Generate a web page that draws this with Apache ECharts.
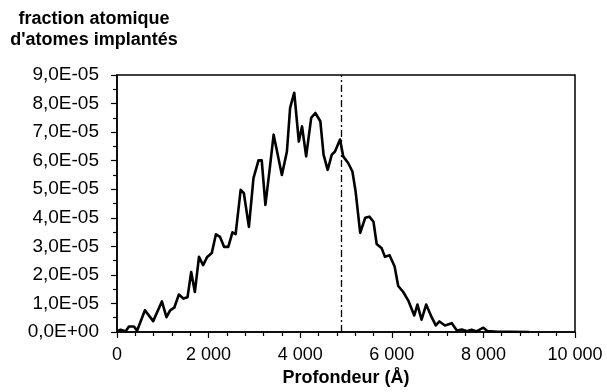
<!DOCTYPE html>
<html>
<head>
<meta charset="utf-8">
<script src="https://cdn.jsdelivr.net/npm/echarts@6/dist/echarts.min.js"></script>
<style>
  html, body { margin: 0; padding: 0; background: #fff; }
  #chart { width: 607px; height: 392px; }
</style>
</head>
<body>
<div id="chart"></div>
<script>
// Implantation profile: depth (Å) and atomic fraction (in units of 1E-05)
const depth = [0, 80, 190, 260, 370, 440, 610, 790, 980, 1080,
  1160, 1250, 1350, 1450, 1540, 1620, 1700, 1790, 1880, 1970,
  2070, 2160, 2250, 2340, 2430, 2520, 2590, 2700, 2770, 2880,
  2980, 3090, 3160, 3240, 3330, 3420, 3600, 3710, 3780, 3870, 3970,
  4040, 4130, 4240, 4330, 4440, 4510, 4600, 4690, 4760, 4870,
  4940, 5050, 5140, 5210, 5310, 5420, 5510, 5600, 5670, 5780,
  5850, 5950, 6060, 6140, 6250, 6360, 6490, 6560, 6650, 6750,
  6870, 6960, 7040, 7160, 7310, 7420, 7530, 7640, 7740, 7850,
  8000, 8090, 8300, 8600, 9000];
const fractionE5 = [0.03, 0.08, 0.03, 0.19, 0.19, 0.05, 0.76, 0.38, 1.07, 0.52,
  0.76, 0.85, 1.31, 1.17, 1.22, 2.10, 1.40, 2.63, 2.34, 2.63,
  2.77, 3.42, 3.33, 2.98, 2.98, 3.49, 3.43, 4.98, 4.86, 3.68,
  5.39, 6.01, 6.01, 4.45, 5.65, 6.91, 5.50, 6.32, 7.85, 8.38, 6.67,
  7.20, 6.15, 7.50, 7.67, 7.38, 6.21, 5.68, 6.21, 6.32, 6.74,
  6.15, 5.91, 5.62, 4.92, 3.47, 4.00, 4.04, 3.86, 3.08, 2.93,
  2.63, 2.69, 2.30, 1.61, 1.40, 1.10, 0.58, 0.96, 0.43, 0.96,
  0.52, 0.23, 0.37, 0.23, 0.31, 0.05, 0.09, 0.03, 0.08, 0.02,
  0.15, 0.03, 0.01, 0.01, 0.0];
// Reference depth marked by the dash-dot line
const markerDepth = 4900;

const xTicks = { min: 0, max: 10000, step: 2000 };
const yTicks = { min: 0, max: 9, step: 1 };

const FONT = '"Liberation Sans", Arial, sans-serif';

const chart = echarts.init(document.getElementById('chart'), null, { renderer: 'canvas' });

const fmtDepth = v => String(v).replace(/\B(?=(\d{3})+(?!\d))/g, ' ');
const fmtFraction = v => v === 0 ? '0,0E+00' : v.toFixed(1).replace('.', ',') + 'E-05';

chart.setOption({
  animation: false,
  backgroundColor: '#fff',
  graphic: [{
    type: 'text',
    x: 94,
    y: 9,
    style: {
      text: "fraction atomique\nd'atomes implantés",
      font: 'bold 18px ' + FONT,
      fill: '#000',
      textAlign: 'center',
      textVerticalAlign: 'top',
      lineHeight: 21
    }
  }],
  grid: {
    left: 117, right: 32, top: 75, bottom: 60,
    show: true, borderColor: '#000', borderWidth: 1.5, backgroundColor: 'transparent'
  },
  xAxis: {
    type: 'value',
    min: xTicks.min, max: xTicks.max, interval: xTicks.step,
    name: 'Profondeur (Å)',
    nameLocation: 'middle',
    nameGap: 37,
    nameTextStyle: { fontFamily: FONT, fontSize: 18, fontWeight: 'bold', color: '#000' },
    axisLine: { lineStyle: { color: '#000', width: 1.5 } },
    axisTick: { show: true, inside: false, length: 6, lineStyle: { color: '#000', width: 1.2 } },
    minorTick: { show: true, splitNumber: 5, length: 4, lineStyle: { color: '#000', width: 1.2 } },
    splitLine: { show: false },
    axisLabel: { margin: 14, fontFamily: FONT, fontSize: 18, color: '#000', formatter: fmtDepth }
  },
  yAxis: {
    type: 'value',
    min: yTicks.min, max: yTicks.max, interval: yTicks.step,
    axisLine: { show: true, lineStyle: { color: '#000', width: 1.5 } },
    axisTick: { show: true, inside: false, length: 6, lineStyle: { color: '#000', width: 1.2 } },
    minorTick: { show: true, splitNumber: 2, length: 4, lineStyle: { color: '#000', width: 1.2 } },
    splitLine: { show: false },
    axisLabel: { margin: 18, fontFamily: FONT, fontSize: 19, color: '#000', formatter: fmtFraction }
  },
  series: [{
    type: 'line',
    data: depth.map((d, i) => [d, fractionE5[i]]),
    showSymbol: false,
    symbol: 'none',
    lineStyle: { color: '#000', width: 2.6, join: 'round' },
    markLine: {
      silent: true,
      symbol: 'none',
      label: { show: false },
      lineStyle: { color: '#000', width: 1.3, type: [7, 3, 2, 3] },
      data: [{ xAxis: markerDepth }]
    }
  }]
});
</script>
</body>
</html>
